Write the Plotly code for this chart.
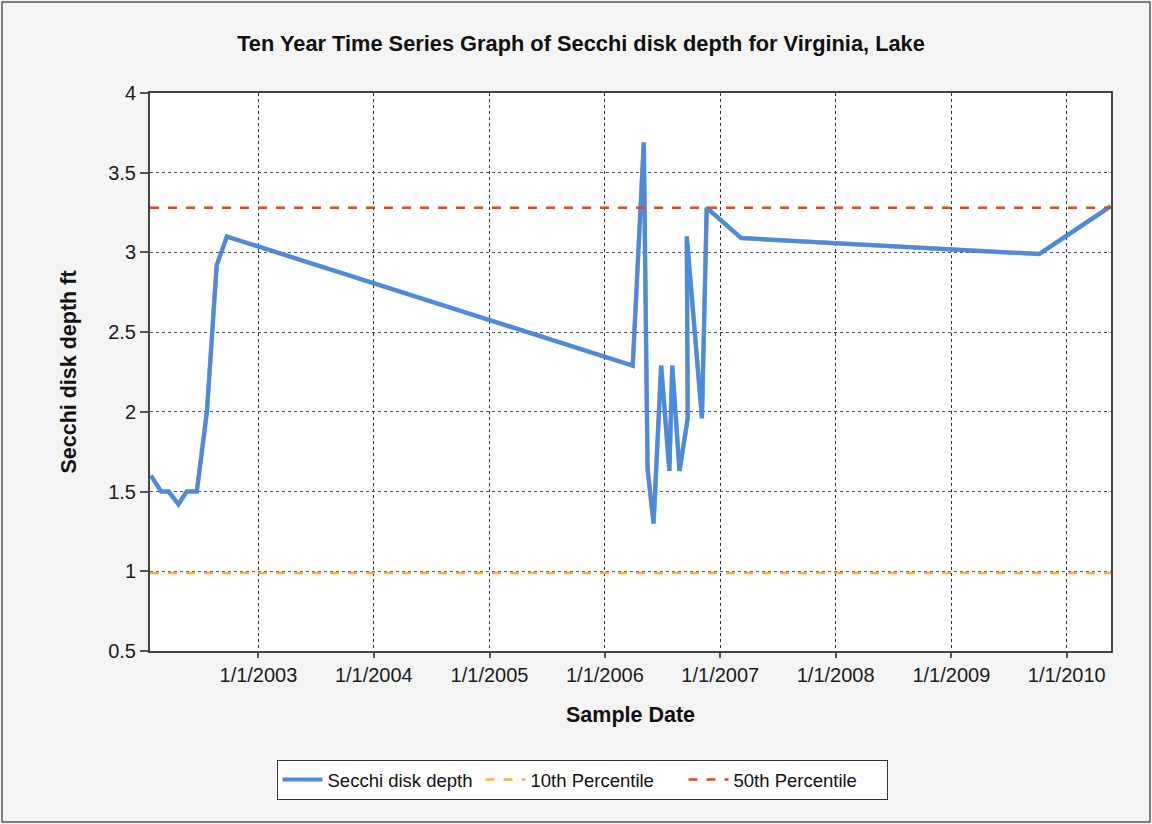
import plotly.graph_objects as go

# Data
sample_dates = [
    "2002-01-26", "2002-02-27", "2002-03-23", "2002-04-23", "2002-05-19",
    "2002-06-20", "2002-07-22", "2002-08-22", "2002-09-23",
    "2006-03-30", "2006-05-04", "2006-05-16", "2006-06-04", "2006-06-28",
    "2006-07-24", "2006-08-02", "2006-08-25", "2006-09-20", "2006-09-17",
    "2006-11-04", "2006-11-19", "2007-03-08", "2009-10-06", "2010-05-20",
]
secchi_depth = [
    1.60, 1.50, 1.50, 1.42, 1.50,
    1.50, 2.00, 2.92, 3.10,
    2.29, 3.69, 1.64, 1.30, 2.29,
    1.63, 2.29, 1.63, 1.96, 3.10,
    1.96, 3.28, 3.09, 2.99, 3.29,
]
pct10_value = 0.99
pct50_value = 3.28
x_range = ["2002-01-23", "2010-05-21"]
tick_dates = ["2003-01-01", "2004-01-01", "2005-01-01", "2006-01-01",
              "2007-01-01", "2008-01-01", "2009-01-01", "2010-01-01"]
tick_labels = ["1/1/2003", "1/1/2004", "1/1/2005", "1/1/2006",
               "1/1/2007", "1/1/2008", "1/1/2009", "1/1/2010"]

FONT = "Liberation Sans, Arial, sans-serif"

fig = go.Figure()

# soft shadow of main series
fig.add_trace(go.Scatter(
    x=sample_dates, y=secchi_depth, mode="lines",
    line=dict(color="rgba(60,60,60,0.45)", width=4.5),
    showlegend=False, hoverinfo="skip",
))
fig.add_trace(go.Scatter(
    x=sample_dates, y=secchi_depth, mode="lines",
    name="Secchi disk depth",
    line=dict(color="#4a8be0", width=4),
))
fig.add_trace(go.Scatter(
    x=x_range, y=[pct10_value, pct10_value], mode="lines",
    name="10th Percentile",
    line=dict(color="#ffae33", width=2.5, dash="dash"),
))
fig.add_trace(go.Scatter(
    x=x_range, y=[pct50_value, pct50_value], mode="lines",
    name="50th Percentile",
    line=dict(color="#e2461a", width=2.5, dash="dash"),
))

W, H = 1152, 824
ml, mr, mt, mb = 150, 41, 93, 173
pw, ph = W - ml - mr, H - mt - mb

fig.update_layout(
    width=W, height=H,
    margin=dict(l=ml, r=mr, t=mt, b=mb, pad=0),
    paper_bgcolor="#f4f4f4",
    plot_bgcolor="white",
    font=dict(family=FONT, size=20, color="#1a1a1a"),
    title=dict(
        text="<b>Ten Year Time Series Graph of Secchi disk depth for Virginia, Lake</b>",
        x=0.5 + (581 - (ml + pw / 2)) / pw, xanchor="center", xref="paper",
        y=1 - 43 / H, yanchor="middle",
        font=dict(family=FONT, size=21.8, color="#111"),
    ),
    xaxis=dict(
        range=x_range, type="date",
        tickvals=tick_dates, ticktext=tick_labels,
        ticks="outside", ticklen=5, tickcolor="#555", tickwidth=1.5,
        showgrid=True, gridcolor="#333", griddash="dot", gridwidth=1,
        showline=True, linecolor="#444", linewidth=2, mirror=True,
        zeroline=False,
        tickfont=dict(size=20),
        title=dict(text="<b>Sample Date</b>", standoff=22,
                   font=dict(size=21.5, color="#111")),
    ),
    yaxis=dict(
        range=[0.5, 4], dtick=0.5, tick0=0.5,
        ticks="outside", ticklen=8, tickcolor="#555", tickwidth=1.5,
        showgrid=True, gridcolor="#555", griddash="dot", gridwidth=1,
        showline=True, linecolor="#444", linewidth=2, mirror=True,
        zeroline=False,
        tickfont=dict(size=20),
        title=dict(text="<b>Secchi disk depth ft</b>", standoff=26,
                   font=dict(size=21.5, color="#111")),
    ),
    legend=dict(
        orientation="h",
        x=0.5 + (582 - (ml + pw / 2)) / pw, xanchor="center",
        y=-109 / ph, yanchor="top",
        bgcolor="white", bordercolor="#333", borderwidth=1,
        font=dict(size=18.5, color="#111"),
        itemwidth=40, entrywidth=148,
    ),
    shapes=[dict(
        type="rect", xref="paper", yref="paper",
        x0=-(ml - 2) / pw, x1=1 + (mr - 2) / pw,
        y0=-(mb - 2) / ph, y1=1 + (mt - 2) / ph,
        line=dict(color="#555", width=1.5), layer="below",
    )],
)

fig.write_html("out.html", config={"displayModeBar": False},
               post_script="document.body.style.margin='0';")
